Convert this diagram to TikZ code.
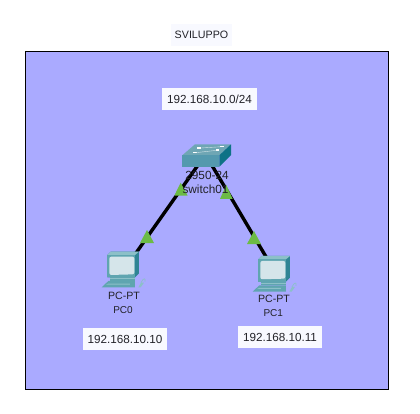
\documentclass[tikz,border=0pt]{standalone}
\usepackage{fontspec}
\setmainfont{Liberation Sans}
\definecolor{zone}{HTML}{AAAAFF}
\definecolor{labelbg}{HTML}{F8F9FF}
\definecolor{ink}{HTML}{222228}
\definecolor{tri}{HTML}{6CBB45}
\definecolor{swtop}{HTML}{6FA6B4}
\definecolor{swfront}{HTML}{5499AE}
\definecolor{swside}{HTML}{0E7286}
\definecolor{pcbody}{HTML}{5FA5B0}
\definecolor{pcdark}{HTML}{2F8494}
\definecolor{pcscreen}{HTML}{D5E5EA}
\definecolor{pclight}{HTML}{8CC0C8}
\tikzset{
  x=1pt,y=-1pt,
  frame/.style={draw=black,line width=1pt,fill=zone},
  link/.style={draw=black,line width=3.4pt},
  tag/.style={fill=labelbg,text=ink,inner sep=0pt,minimum height=22pt,font=\fontsize{11.7}{13}\selectfont},
  titletag/.style={tag,font=\fontsize{10.7}{13}\selectfont},
  dev/.style={text=ink,inner sep=0pt,font=\fontsize{10}{12}\selectfont},
  devmodel/.style={dev,font=\fontsize{10.6}{12}\selectfont},
  swlabel/.style={text=ink,inner sep=0pt,font=\fontsize{11.8}{13}\selectfont},
  flag/.style={fill=tri},
  pcicon/.pic={
    \begin{scope}[x=0.3333pt,y=-0.3333pt]
      \fill[pcdark] (52,60)--(62,50)--(147,50)--(147,115)--(135,127)--(52,127)--cycle;
      \fill[pclight] (52,60)--(62,50)--(147,50)--(135,60)--cycle;
      \fill[pcbody] (52,60)--(135,60)--(135,127)--(52,127)--cycle;
      \fill[pcscreen,rounded corners=2pt] (58,65)--(133,65)--(133,118)--(58,120)--cycle;
      \fill[pcbody] (60,127)--(135,127)--(135,138)--(60,138)--cycle;
      \fill[pclight] (60,130)--(135,130)--(135,133)--(60,133)--cycle;
      \fill[pcbody] (55,138)--(135,138)--(135,157)--(35,157)--cycle;
      \fill[pclight] (55,146)--(120,146)--(120,149)--(48,149)--cycle;
      \fill[pclight] (145,157)--(153,143)--(162,143)--(152,157)--cycle;
      \draw[pclight,line width=0.7pt] (153,143) .. controls (160,128) and (168,128) .. (165,140);
    \end{scope}
  }
}
\begin{document}
\begin{tikzpicture}
\useasboundingbox (0,0) rectangle (420,414);
\fill[white] (0,0) rectangle (420,414);
\draw[frame] (25.5,51.5) rectangle (388.5,389.5);
\coordinate (sw) at (205.5,154.5);
\coordinate (pc0) at (124,270);
\coordinate (pc1) at (275,272);
\draw[link] (sw) -- (pc0);
\draw[link] (sw) -- (pc1);
% switch icon
\fill[swtop] (182.3,155.3)--(195,144.3)--(231,144.3)--(219.3,155.3)--cycle;
\fill[swfront] (182.3,155.3)--(219.3,155.3)--(219.3,166.7)--(182.3,166.7)--cycle;
\fill[swside] (219.3,155.3)--(231,144.3)--(231,155)--(219.3,166.7)--cycle;
\fill[white] (197,147.5) rectangle (201,148.8);
\fill[white] (220,146) rectangle (224,147.3);
\fill[white] (193,152) rectangle (196.5,153.3);
\fill[white] (216,149.5) rectangle (219,151);
\draw[white!70!swtop,line width=0.4pt] (201,148) -- (220,146.8) (196.5,152.6) -- (216,150.4);
% computers
\pic at (90,235) {pcicon};
\pic at (241,239.3) {pcicon};
% port lights
\fill[flag] (180.7,182.7)--(187.7,195.7)--(174.3,195.7)--cycle;
\fill[flag] (226.3,185)--(232.7,199)--(220,199)--cycle;
\fill[flag] (147,230)--(154,243)--(140,243)--cycle;
\fill[flag] (254,231)--(261,244)--(247,244)--cycle;
% labels
\node[swlabel] (swmodel) at (207,175.5) {2950-24};
\node[swlabel] (swname) at (205.5,189.5) {switch01};
\node[devmodel] (pc0model) at (124,296) {PC-PT};
\node[dev] (pc0name) at (123,310) {PC0};
\node[devmodel] (pc1model) at (274,299) {PC-PT};
\node[dev] (pc1name) at (273.3,313.5) {PC1};
\node[titletag,minimum width=61pt] (title) at (201.5,35) {SVILUPPO};
\node[tag,minimum width=95pt] (net) at (209.5,99) {192.168.10.0/24};
\node[tag,minimum width=84pt] (ip0) at (125,339) {192.168.10.10};
\node[tag,minimum width=84pt] (ip1) at (280,337) {192.168.10.11};
\end{tikzpicture}
\end{document}
